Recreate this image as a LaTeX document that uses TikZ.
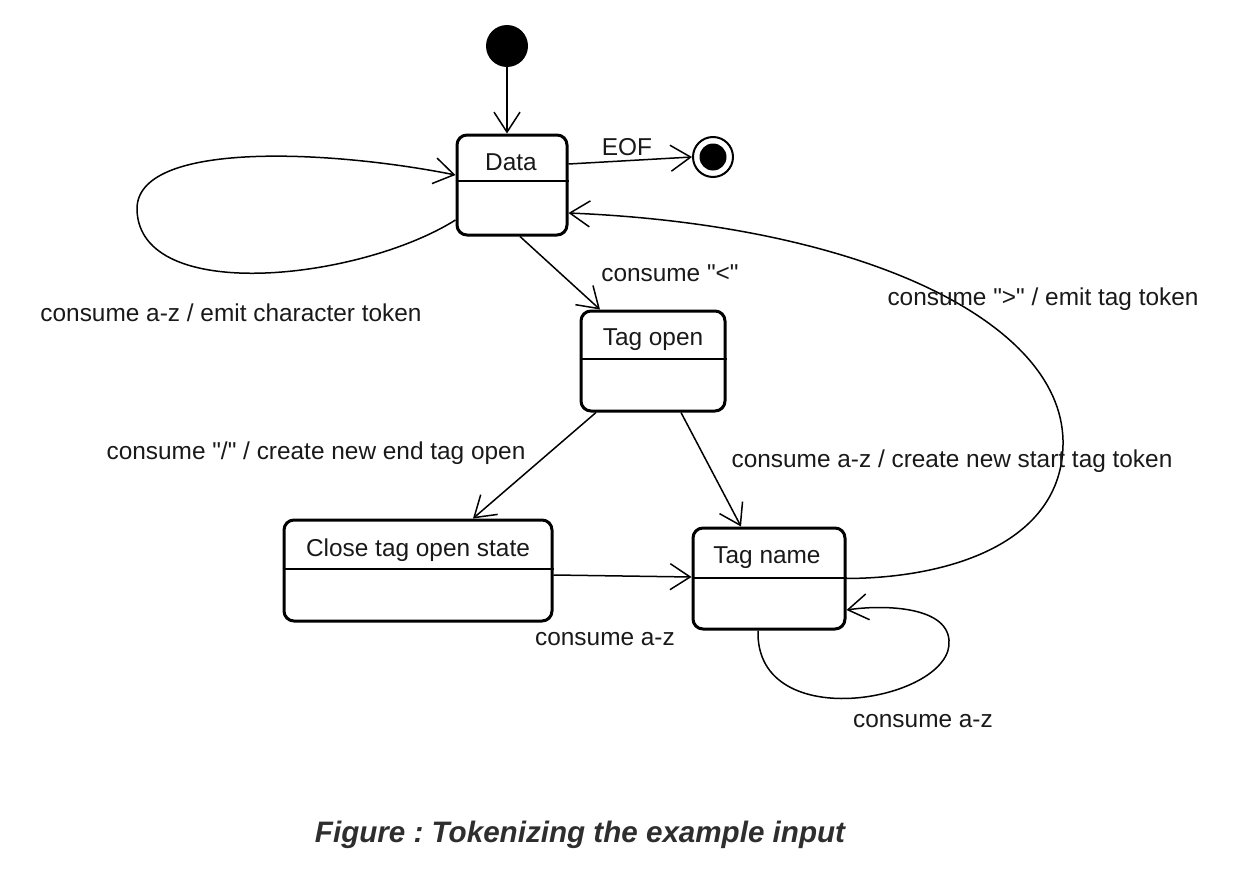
\documentclass[tikz,border=0pt]{standalone}
\usepackage{fontspec}
\setmainfont{Liberation Sans}[Ligatures=TeXOff]
\usetikzlibrary{arrows.meta}
\frenchspacing
\begin{document}
\begin{tikzpicture}[x=0.5pt,y=-0.5pt,
  statebox/.style={draw=black,line width=1.5pt,rounded corners=5pt,fill=white,inner sep=0pt},
  divider/.style={line width=0.8pt},
  txt/.style={font=\fontsize{12.2pt}{14pt}\selectfont,text=black!90,inner sep=0pt},
  conn/.style={line width=0.75pt,-{Straight Barb[length=10pt,width=13pt]}},
]
\useasboundingbox (0,0) rectangle (1250,894);
% states
\node[statebox,minimum width=55pt,minimum height=50pt] (Data) at (512,185) {};
\node[statebox,minimum width=72pt,minimum height=50pt] (TagOpen) at (653,361) {};
\node[statebox,minimum width=134pt,minimum height=50.5pt] (Close) at (418,570.5) {};
\node[statebox,minimum width=76pt,minimum height=50.5pt] (TagName) at (769,578.5) {};
\draw[divider] (Data.west |- 0,181) -- (Data.east |- 0,181);
\draw[divider] (TagOpen.west |- 0,359) -- (TagOpen.east |- 0,359);
\draw[divider] (Close.west |- 0,569) -- (Close.east |- 0,569);
\draw[divider] (TagName.west |- 0,578) -- (TagName.east |- 0,578);
\node[txt] (DataT) at (511,162) {Data};
\node[txt] (TagOpenT) at (653,340) {Tag open};
\node[txt] (CloseT) at (418,550) {Close tag open state};
\node[txt] (TagNameT) at (767,558) {Tag name};
% initial and final
\node[circle,fill=black,minimum size=21pt,inner sep=0pt] (init) at (507,46) {};
\node[circle,draw=black,line width=1pt,fill=white,minimum size=20pt,inner sep=0pt] (final) at (713,157) {};
\node[circle,fill=black,minimum size=13.5pt,inner sep=0pt] (finalIn) at (713,157) {};
% connectors
\draw[conn] (init.south) -- (init.south |- Data.north);
\draw[conn] ([yshift=10.5pt]Data.east) -- (final.west);
\draw[conn] ([yshift=-17.5pt]Data.west) .. controls (360,280) and (140,305) .. (137,210)
  .. controls (135,140) and (330,150) .. ([yshift=5pt]Data.west);
\draw[conn] ([xshift=4pt]Data.south) -- ([xshift=-26.5pt]TagOpen.north);
\draw[conn] ([xshift=-28.5pt]TagOpen.south) -- ([xshift=27.5pt]Close.north);
\draw[conn] ([xshift=14pt]TagOpen.south) -- ([xshift=-14pt]TagName.north);
\draw[conn] ([yshift=-2.25pt]Close.east) -- ([yshift=0.75pt]TagName.west);
\draw[conn] (TagName.east) .. controls (955,578) and (1065,540) .. (1063,440)
  .. controls (1060,320) and (860,225) .. ([yshift=-14pt]Data.east);
\draw[conn] ([xshift=-5.5pt]TagName.south) .. controls (755,738) and (955,700) .. (949,640)
  .. controls (946,605) and (880,605) .. ([yshift=-15.75pt]TagName.east);
% labels
\node[txt] (lEOF) at (627,147) {EOF};
\node[txt] (lSelf) at (231,313) {consume a-z / emit character token};
\node[txt] (lLt) at (670,273) {consume "<"};
\node[txt] (lGt) at (1043,299) {consume ">" / emit tag token};
\node[txt] (lSlash) at (316,453) {consume "/" / create new end tag open};
\node[txt] (lStart) at (952,461) {consume a-z / create new start tag token};
\node[txt] (lClose) at (605,639) {consume a-z};
\node[txt] (lName) at (923,721) {consume a-z};
% caption
\node[font=\fontsize{14.8pt}{17pt}\selectfont\bfseries\itshape,text=black!82,inner sep=0pt] (cap) at (580,835) {Figure : Tokenizing the example input};
\end{tikzpicture}
\end{document}
